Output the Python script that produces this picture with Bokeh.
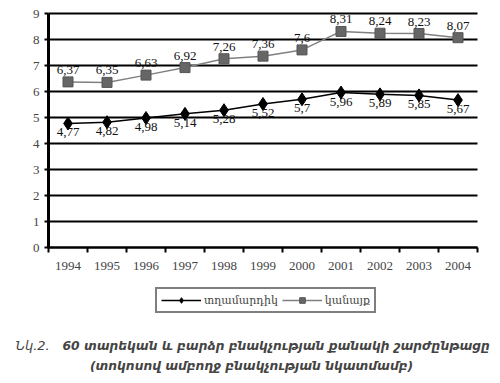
from bokeh.plotting import figure
from bokeh.models import FixedTicker, Legend, LegendItem, Label, Range1d
from bokeh.core.properties import value
from bokeh.embed import file_html
from bokeh.resources import INLINE

years = [1994, 1995, 1996, 1997, 1998, 1999, 2000, 2001, 2002, 2003, 2004]
men = [4.77, 4.82, 4.98, 5.14, 5.28, 5.52, 5.7, 5.96, 5.89, 5.85, 5.67]
women = [6.37, 6.35, 6.63, 6.92, 7.26, 7.36, 7.6, 8.31, 8.24, 8.23, 8.07]
men_name = "տղամարդիկ"
women_name = "կանայք"
caption1a = "Նկ.2."
caption1b = "60 տարեկան և բարձր բնակչության  քանակի շարժընթացը"
caption2 = "(տոկոսով ամբողջ բնակչության նկատմամբ)"
y_ticks = [0, 1, 2, 3, 4, 5, 6, 7, 8, 9]

def fmt(v):
    s = f"{v:.2f}".rstrip("0").rstrip(".")
    return s.replace(".", ",")

W, H = 490, 375
left_px, top_px = 48, 13          # plot-area corner inside the figure
px_x, px_y = 39.0, 26.0           # pixels per year / per unit
x0 = years[0] - 0.5
x_start = x0 - left_px / px_x
x_end = x_start + W / px_x
y_top = y_ticks[-1] + top_px / px_y
y_bot = y_top - H / px_y

p = figure(width=W, height=H, output_backend="svg", toolbar_location=None,
           x_range=Range1d(x_start, x_end), y_range=Range1d(y_bot, y_top),
           min_border_left=0, min_border_right=0, min_border_top=0, min_border_bottom=0)
p.outline_line_color = None
p.background_fill_color = "white"
p.border_fill_color = "white"
p.xgrid.visible = False
p.ygrid.visible = False

# horizontal grid lines across the plot area only
n = len(y_ticks)
p.segment(x0=[years[0] - 0.5] * n, x1=[years[-1] + 0.5] * n, y0=y_ticks, y1=y_ticks,
          line_color="black", line_width=2)

p.yaxis.fixed_location = years[0] - 0.5
p.yaxis.bounds = (y_ticks[0], y_ticks[-1])
p.yaxis.ticker = FixedTicker(ticks=y_ticks)
p.yaxis.axis_line_width = 3
p.yaxis.major_tick_out = 4
p.yaxis.major_tick_in = 0
p.yaxis.major_tick_line_width = 2
p.yaxis.minor_tick_line_color = None
p.yaxis.major_label_text_font = "Liberation Serif"
p.yaxis.major_label_text_font_size = "13px"
p.yaxis.major_label_standoff = 5

boundaries = [y - 0.5 for y in years] + [years[-1] + 0.5]
p.xaxis.fixed_location = y_ticks[0]
p.xaxis.bounds = (years[0] - 0.5, years[-1] + 0.5)
p.xaxis.ticker = FixedTicker(ticks=years, minor_ticks=boundaries)
p.xaxis.axis_line_width = 2
p.xaxis.major_tick_out = 0
p.xaxis.major_tick_in = 0
p.xaxis.minor_tick_out = 5
p.xaxis.minor_tick_in = 0
p.xaxis.minor_tick_line_width = 2
p.xaxis.minor_tick_line_color = "black"
p.xaxis.major_label_text_font = "Liberation Serif"
p.xaxis.major_label_text_font_size = "13px"
p.xaxis.major_label_standoff = 9

wl = p.line(years, women, line_color="#808080", line_width=1.5)
ws = p.scatter(years, women, marker="square", size=10, fill_color="#666666", line_color="#555555")
ml = p.line(years, men, line_color="black", line_width=1.5)
ms = p.scatter(years, men, marker="diamond", size=13, fill_color="black", line_color="black")

p.text(years, women, text=[fmt(v) for v in women], text_align="center", text_baseline="middle",
       y_offset=-12, text_font=value("Liberation Serif"), text_font_size="13px", text_color="#111111")
p.text(years, men, text=[fmt(v) for v in men], text_align="center", text_baseline="middle",
       y_offset=9, text_font=value("Liberation Serif"), text_font_size="13px", text_color="#111111")

legend = Legend(items=[LegendItem(label=men_name, renderers=[ml, ms]),
                       LegendItem(label=women_name, renderers=[wl, ws])],
                orientation="horizontal", location=(155, 62),
                border_line_color="black", border_line_width=2,
                label_text_font="DejaVu Serif", label_text_font_size="11px",
                glyph_width=40, glyph_height=14, spacing=4, padding=4, margin=0,
                label_standoff=3, background_fill_color="white")
p.add_layout(legend, "center")

def dx(page_x):
    return x0 + (page_x - left_px) / px_x

def dy(page_y):
    return y_ticks[-1] - (page_y - top_px) / px_y

p.add_layout(Label(x=dx(15), y=dy(345), text=caption1a, text_font="DejaVu Sans",
                   text_font_style="italic", text_font_size="13px", text_baseline="middle",
                   text_align="left"))
p.add_layout(Label(x=dx(62), y=dy(345), text=caption1b, text_font="DejaVu Sans",
                   text_font_style="bold italic", text_font_size="12.3px", text_baseline="middle",
                   text_align="left"))
p.add_layout(Label(x=dx(251), y=dy(365), text=caption2, text_font="DejaVu Sans",
                   text_font_style="bold italic", text_font_size="12.3px", text_baseline="middle",
                   text_align="center"))

open("out.html", "w").write(file_html(p, INLINE))
